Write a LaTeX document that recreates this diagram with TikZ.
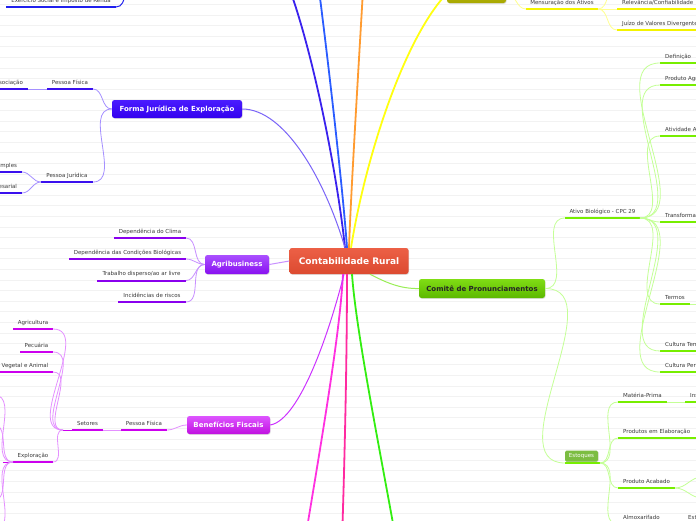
\documentclass[tikz,border=0pt]{standalone}
\usepackage{fontspec}
\setmainfont{DejaVu Sans}
\usetikzlibrary{calc,shadows}
\definecolor{stripecol}{HTML}{F2F2F2}
\definecolor{txt}{HTML}{3A3A3A}
\definecolor{cRedT}{HTML}{EC6046}
\definecolor{cRedB}{HTML}{DC4A30}
\definecolor{cIndT}{HTML}{4A1CFF}
\definecolor{cIndB}{HTML}{3300EE}
\definecolor{cIndL}{HTML}{3A22EE}
\definecolor{cIndU}{HTML}{3A10EE}
\definecolor{cIndC}{HTML}{A590FF}
\definecolor{cBlue}{HTML}{2A5CFF}
\definecolor{cBlueU}{HTML}{2020EE}
\definecolor{cOrange}{HTML}{FF9B30}
\definecolor{cYel}{HTML}{FFFF10}
\definecolor{cYelU}{HTML}{F4F400}
\definecolor{cYelC}{HTML}{FFFF90}
\definecolor{cOliveT}{HTML}{BDBD10}
\definecolor{cOliveB}{HTML}{A8A800}
\definecolor{cPurT}{HTML}{AA50FF}
\definecolor{cPurB}{HTML}{8810F0}
\definecolor{cPurU}{HTML}{8A00EE}
\definecolor{cPurC}{HTML}{C890FF}
\definecolor{cMagT}{HTML}{DD55FF}
\definecolor{cMagB}{HTML}{C010E0}
\definecolor{cMagU}{HTML}{CC00EE}
\definecolor{cMagC}{HTML}{E490FF}
\definecolor{cMagL}{HTML}{CC33FF}
\definecolor{cGrnT}{HTML}{80DD14}
\definecolor{cGrnB}{HTML}{5CB800}
\definecolor{cGrnU}{HTML}{77EE00}
\definecolor{cGrnC}{HTML}{C4FF96}
\definecolor{cGrnL}{HTML}{99EE55}
\definecolor{cEst}{HTML}{7CBD42}
\definecolor{cPinkA}{HTML}{FF30E0}
\definecolor{cPinkB}{HTML}{FF2AA0}
\definecolor{cGreenL}{HTML}{33EE11}

% underlined label, text centred over the underline
\newcommand{\ulc}[6]{%
  \coordinate (#1-l) at (#2,#4);
  \coordinate (#1-r) at (#3,#4);
  \draw[ul,#5] (#1-l) -- (#1-r);
  \node[lbl,anchor=base] (#1) at ($(#1-l)!0.5!(#1-r)+(0,-4.6)$) {#6};
}
% underlined label, text starting at the left end
\newcommand{\ulw}[6]{%
  \coordinate (#1-l) at (#2,#4);
  \coordinate (#1-r) at (#3,#4);
  \draw[ul,#5] (#1-l) -- (#1-r);
  \node[lbl,anchor=base west] (#1) at ($(#1-l)+(5,-4.6)$) {#6};
}

\tikzset{
  lbl/.style={font=\fontsize{5.5}{6}\selectfont, text=txt, inner sep=0pt},
  ul/.style={line width=2pt},
  con/.style={line width=0.8pt},
  mainln/.style={line width=1.8pt},
  box/.style={rounded corners=2.5pt, inner sep=0pt, text=white,
    font=\bfseries\fontsize{7}{8}\selectfont,
    drop shadow={opacity=0.25, shadow xshift=0.6pt, shadow yshift=-0.8pt}},
}

\begin{document}
\begin{tikzpicture}[x=1pt,y=-1pt]
\useasboundingbox (0,0) rectangle (696,520);
\clip (0,0) rectangle (696,520);
\fill[white] (0,0) rectangle (696,520);
\foreach \k in {0,...,49} \draw[stripecol, line width=1pt] (0,{4.5+10.6*\k}) -- (696,{4.5+10.6*\k});

% ---------- boxes ----------
\node[box, top color=cRedT, bottom color=cRedB, minimum width=119pt, minimum height=26pt,
      font=\bfseries\fontsize{9}{10}\selectfont] (center) at (349,261) {Contabilidade Rural};
\node[box, top color=cIndT, bottom color=cIndB, minimum width=130pt, minimum height=18pt] (forma) at (177,109) {Forma Jurídica de Exploração};
\node[box, top color=cPurT, bottom color=cPurB, minimum width=64pt, minimum height=19pt] (agri) at (237,264.5) {Agribusiness};
\node[box, top color=cMagT, bottom color=cMagB, minimum width=83pt, minimum height=18pt] (benef) at (228.5,425) {Benefícios Fiscais};
\node[box, top color=cGrnT, bottom color=cGrnB, minimum width=126pt, minimum height=19pt, text=black!85] (comite) at (482,288.5) {Comitê de Pronunciamentos};
\node[box, top color=cOliveT, bottom color=cOliveB, minimum width=59pt, minimum height=19pt] (olive) at (476.5,-6.5) {};
\node[box, fill=cEst, minimum width=33pt, minimum height=11pt, rounded corners=1.5pt,
      font=\fontsize{5.5}{6}\selectfont] (estoq) at (581.5,456) {Estoques};

% ---------- main branches from the centre ----------
\coordinate (upInd) at (290,-10);
\coordinate (upBlue) at (319,-10);
\coordinate (upOr) at (363,-10);
\coordinate (dnA) at (305,540);
\coordinate (dnB) at (342,540);
\coordinate (dnC) at (396,540);

\draw[mainln, cIndL] ($(center.north)+(-4,0)$) .. controls (338,180) and (315,60) .. (upInd);
\draw[mainln, cBlue] ($(center.north)+(-2,0)$) .. controls (343,190) and (328,60) .. (upBlue);
\draw[mainln, cOrange] (center.north) .. controls (351,190) and (359,60) .. (upOr);
\draw[mainln, cYel] ($(center.north)+(2,0)$) .. controls (365,160) and (403,40) .. (olive.west);
\draw[con, cIndC!60!cIndL, line width=1pt] (forma.east) .. controls (285,109) and (325,180) .. ($(center.north)+(-4,0)$);

\draw[mainln, cPinkA] ($(center.south)+(-6,0)$) .. controls (340,330) and (325,420) .. (dnA);
\draw[mainln, cPinkB] ($(center.south)+(-2,0)$) .. controls (347,350) and (345,450) .. (dnB);
\draw[mainln, cGreenL] ($(center.south)+(3,0)$) .. controls (356,330) and (378,440) .. (dnC);
\draw[cMagL, line width=1pt] (benef.east) .. controls (300,420) and (330,330) .. ($(center.south)+(-5,0)$);
\draw[cGrnL, line width=1pt] ($(center.south)+(21,0)$) .. controls (385,282) and (400,289) .. (comite.west);
\draw[cPurC, line width=1pt] (agri.east) -- (center.west);

% ---------- Exercício (blue) ----------
\ulc{exerc}{6}{116}{7}{cBlueU}{Exercício Social e Imposto de Renda}
\coordinate (exParent) at (135,-20);
\draw[cBlueU, line width=1pt] (exerc-r) to[out=0,in=180] (exParent);

% ---------- Forma Jurídica ----------
\ulc{pf}{47}{93}{89}{cIndU}{Pessoa Física}
\ulc{pj}{41}{93}{182}{cIndU}{Pessoa Jurídica}
\ulc{assoc}{-12.6}{28}{89}{cIndU}{Associação}
\ulc{simp}{-9.6}{22}{172}{cIndU}{Simples}
\ulc{empr}{-20.8}{22}{193}{cIndU}{Empresarial}
\draw[con, cIndC] (forma.west) to[out=180,in=0] (pf-r);
\draw[con, cIndC] (forma.west) to[out=180,in=0] (pj-r);
\draw[con, cIndC] (pf-l) -- (assoc-r);
\draw[con, cIndC] (pj-l) to[out=180,in=0] (simp-r);
\draw[con, cIndC] (pj-l) to[out=180,in=0] (empr-r);

% ---------- Agribusiness ----------
\ulc{dc}{114}{186}{238}{cPurU}{Dependência do Clima}
\ulc{dcb}{69}{186}{259}{cPurU}{Dependência das Condições Biológicas}
\ulc{tr}{97}{186}{280.5}{cPurU}{Trabalho disperso/ao ar livre}
\ulc{ir}{118}{186}{302}{cPurU}{Incidências de riscos}
\foreach \n in {dc,dcb,tr,ir} \draw[con, cPurC] (agri.west) to[out=180,in=0] (\n-r);

% ---------- Benefícios Fiscais ----------
\ulc{bpf}{121}{167}{430}{cMagU}{Pessoa Física}
\ulc{set}{72}{103}{430}{cMagU}{Setores}
\draw[con, cMagC] (benef.west) to[out=180,in=0] (bpf-r);
\draw[con, cMagC] (bpf-l) -- (set-r);
\ulc{agr}{13}{53}{329}{cMagU}{Agricultura}
\ulc{pec}{20}{53}{352}{cMagU}{Pecuária}
\ulc{veg}{-3}{53}{372}{cMagU}{Vegetal e Animal}
\ulc{expl}{13}{53}{462}{cMagU}{Exploração}
\coordinate (setK) at (63,430);
\draw[cMagU, line width=1pt] (set-l) -- (setK);
\foreach \n in {agr,pec,veg,expl} \draw[con, cMagC] (setK) to[out=180,in=0] (\n-r);
\coordinate (ex1) at (-6,395);
\coordinate (ex2) at (-6,425);
\coordinate (ex3) at (-6,500);
\coordinate (ex4) at (-6,530);
\draw[cMagU, line width=1pt] (expl-l) -- (3,462);
\foreach \n in {ex1,ex2,ex3,ex4} \draw[con, cMagC] (expl-l) to[out=180,in=0] (\n);

% ---------- Comitê de Pronunciamentos ----------
\ulc{ativo}{565}{640}{218}{cGrnU}{Ativo Biológico - CPC 29}
\coordinate (estoq-l) at (565,463);
\coordinate (estoq-r) at (600,463);
\draw[ul, cGrnU] (estoq-l) -- (estoq-r);
\draw[con, cGrnC] (comite.east) to[out=0,in=180] (ativo-l);
\draw[con, cGrnC] (comite.east) to[out=0,in=180] (estoq-l);

\ulw{def}{660}{700}{63}{cGrnU}{Definição}
\ulw{prod}{660}{700}{85}{cGrnU}{Produto Agrícola}
\ulw{ativ}{660}{700}{136}{cGrnU}{Atividade Agrícola}
\ulw{transf}{660}{700}{222}{cGrnU}{Transformação Biológica}
\ulw{termos}{660}{690}{304}{cGrnU}{Termos}
\ulw{ctemp}{660}{700}{351}{cGrnU}{Cultura Temporária}
\ulw{cperm}{660}{700}{372}{cGrnU}{Cultura Permanente}
\foreach \n in {def,prod,ativ,transf,termos,ctemp,cperm} \draw[con, cGrnC] (ativo-r) to[out=0,in=180] (\n-l);
\coordinate (termosC) at (702,304);
\draw[con, cGrnC] (termos-r) -- (termosC);

\ulw{mp}{618}{667}{402}{cGrnU}{Matéria-Prima}
\ulw{ins}{685}{720}{402}{cGrnU}{Insumos}
\ulw{pel}{618}{700}{438}{cGrnU}{Produtos em Elaboração}
\ulw{pac}{618}{675}{488}{cGrnU}{Produto Acabado}
\ulw{alm}{618}{680}{524}{cGrnU}{Almoxarifado}
\ulw{est2}{683}{720}{524}{cGrnU}{Estoque}
\foreach \n in {mp,pel,pac,alm} \draw[con, cGrnC] (estoq-r) to[out=0,in=180] (\n-l);
\draw[con, cGrnC] (mp-r) -- (ins-l);
\draw[con, cGrnC] (alm-r) -- (est2-l);
\coordinate (pac1) at (702,477);
\coordinate (pac2) at (702,498);
\draw[con, cGrnC] (pac-r) to[out=0,in=180] (pac1);
\draw[con, cGrnC] (pac-r) to[out=0,in=180] (pac2);

% ---------- Yellow branch ----------
\ulc{mens}{526}{598}{9}{cYelU}{Mensuração dos Ativos}
\ulw{rel}{617}{700}{9}{cYelU}{Relevância/Confiabilidade}
\ulw{juizo}{617}{700}{30}{cYelU}{Juízo de Valores Divergentes}
\coordinate (relUp) at (617,-14);
\draw[con, cYelC] (olive.east) to[out=0,in=180] (mens-l);
\draw[con, cYelC] (mens-r) -- (rel-l);
\draw[con, cYelC] (mens-r) to[out=0,in=180] (juizo-l);
\draw[con, cYelC] (mens-r) to[out=0,in=180] (relUp);
\end{tikzpicture}
\end{document}
